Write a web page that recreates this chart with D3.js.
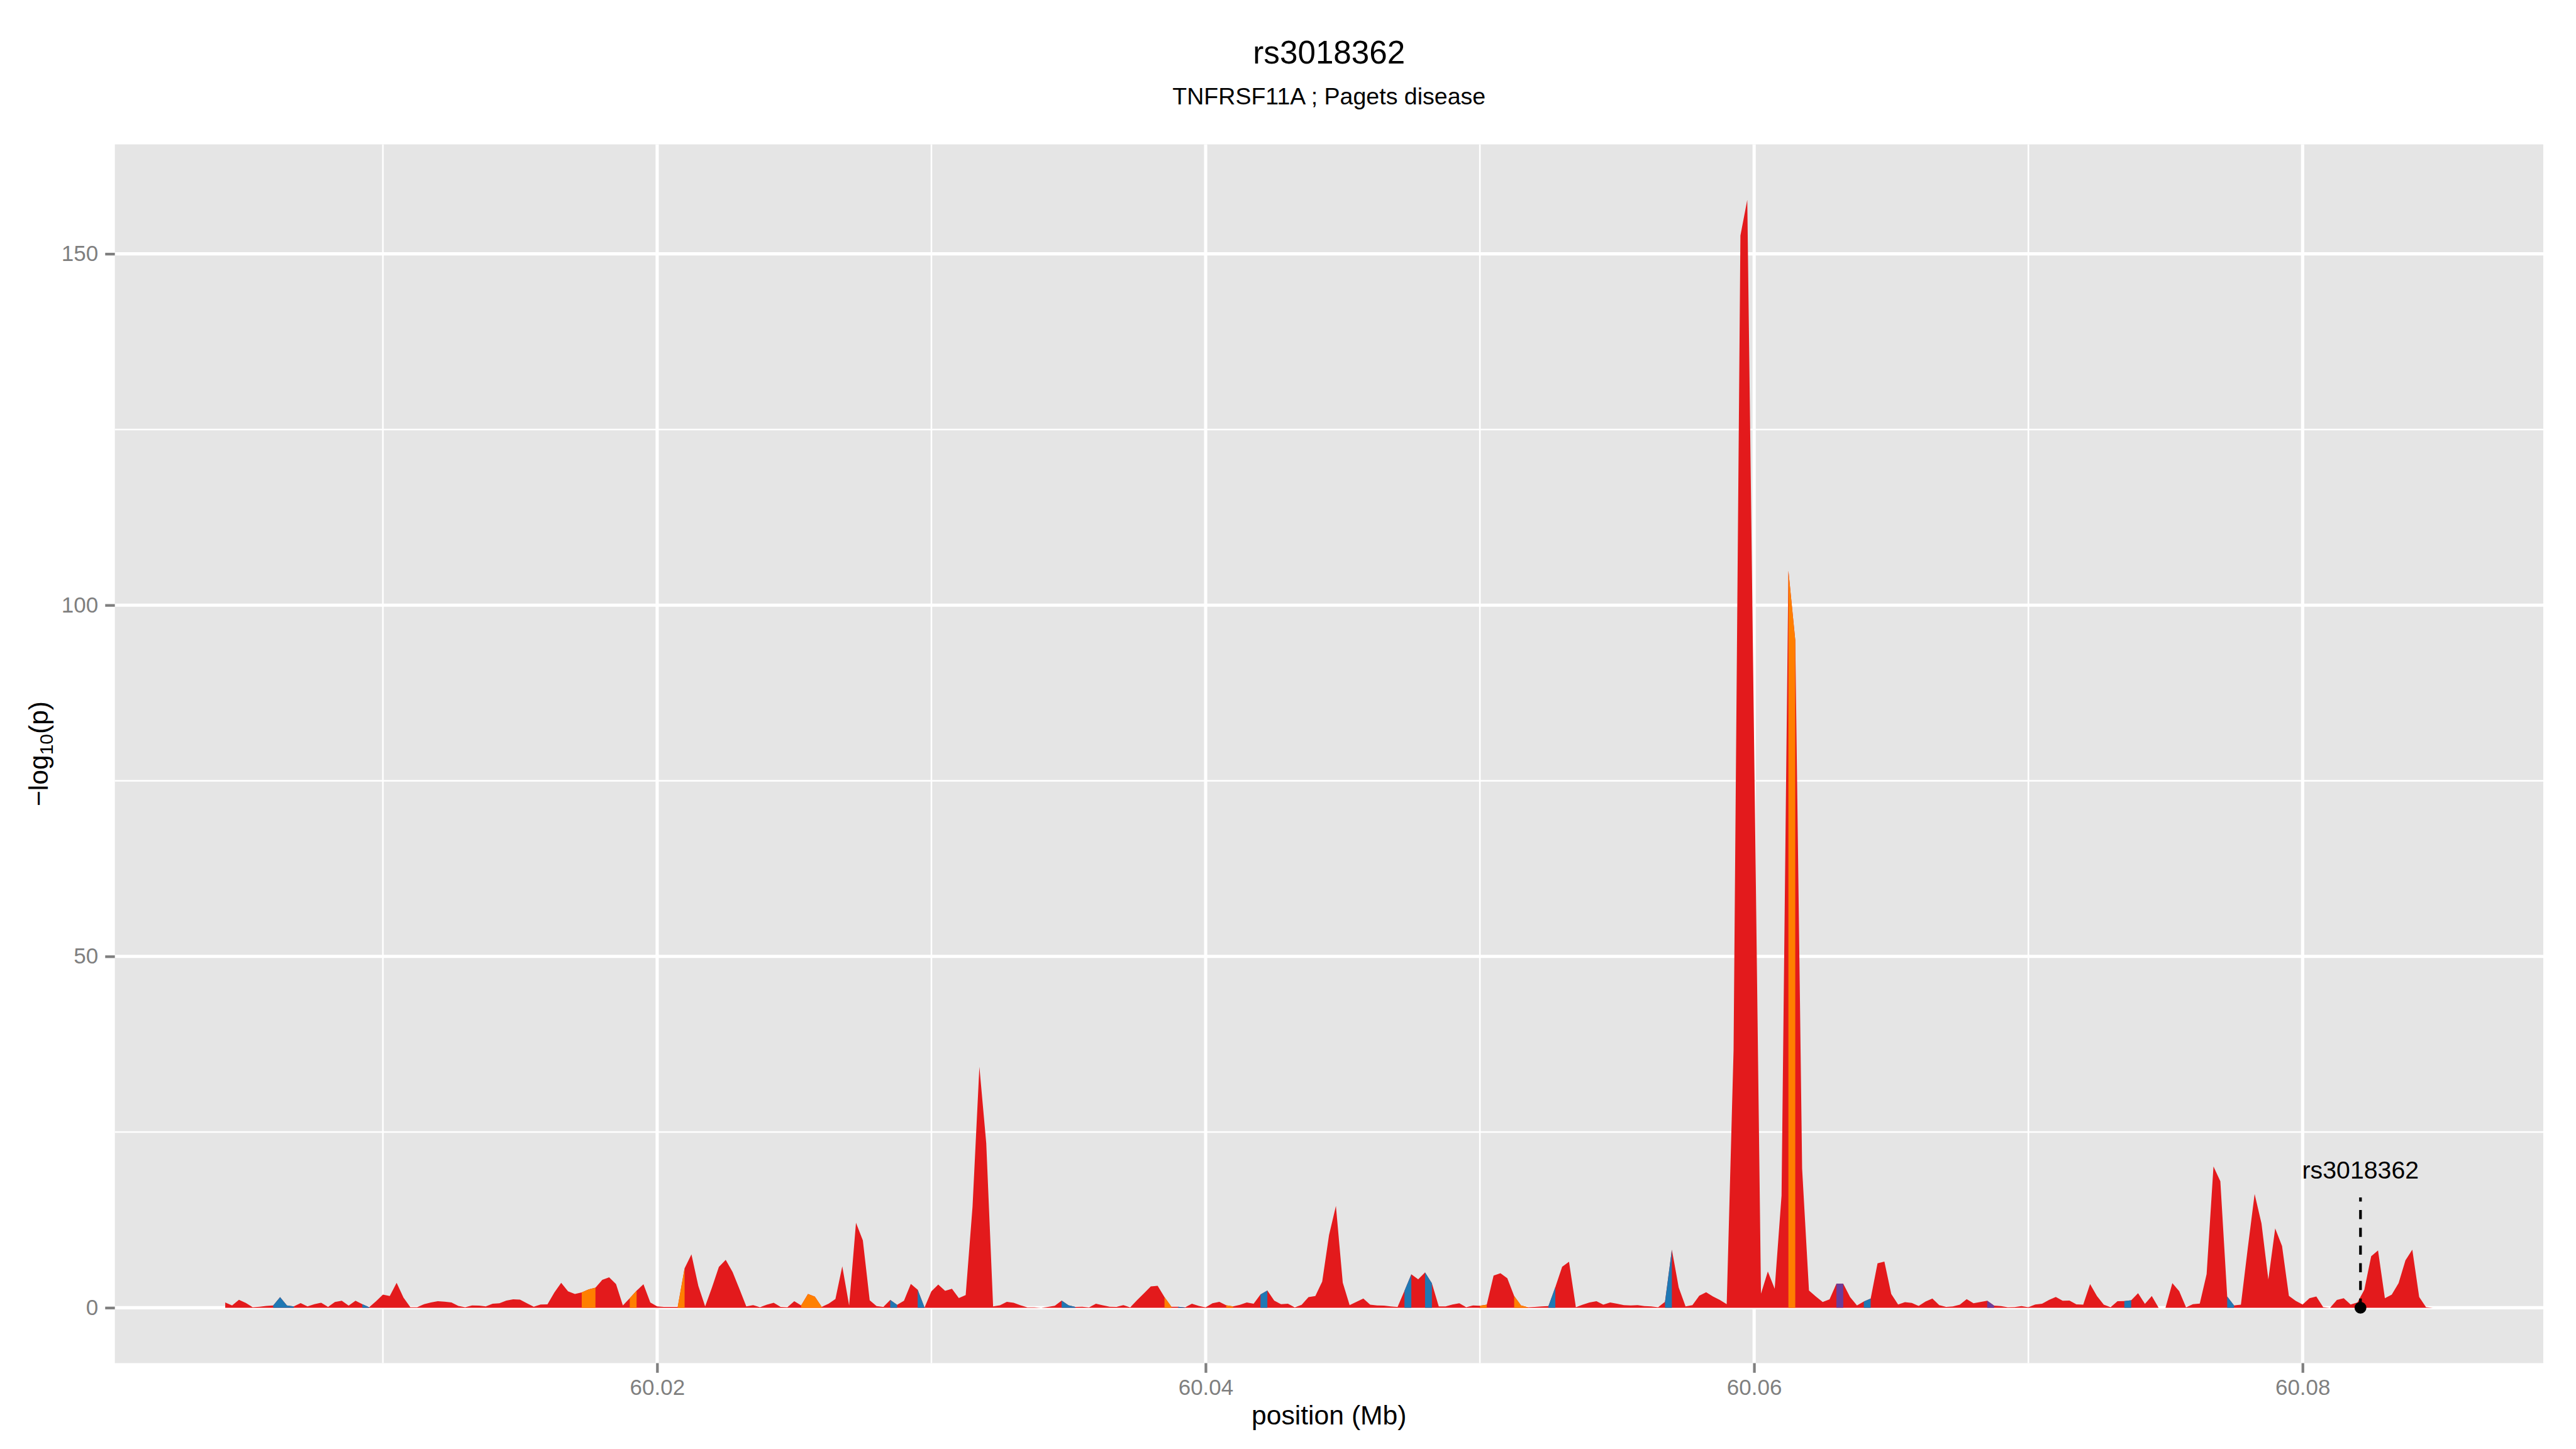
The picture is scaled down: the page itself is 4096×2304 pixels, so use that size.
<!DOCTYPE html>
<html>
<head>
<meta charset="utf-8">
<title>rs3018362</title>
<script src="https://cdn.jsdelivr.net/npm/d3@7"></script>
<style>
    html, body { margin: 0; padding: 0; background: #ffffff; }
    svg { display: block; }
    text { font-family: "Liberation Sans", Arial, Helvetica, sans-serif; }
</style>
</head>
<body>
<div id="locus-plot"></div>
<script>
// SNP positions (bp) along the region
const positionsBp = [
    60004250,60004500,60004750,60005000,60005250,60005500,60005750,60006000,60006250,60006500,
    60006750,60007000,60007250,60007500,60007750,60008000,60008250,60008500,60008750,60009000,
    60009250,60009500,60009750,60010000,60010250,60010500,60010750,60011000,60011250,60011500,
    60011750,60012000,60012250,60012500,60012750,60013000,60013250,60013500,60013750,60014000,
    60014250,60014500,60014750,60015000,60015250,60015500,60015750,60016000,60016250,60016500,
    60016750,60017000,60017250,60017500,60017750,60018000,60018250,60018500,60018750,60019000,
    60019250,60019500,60019750,60020000,60020250,60020500,60020750,60021000,60021250,60021500,
    60021750,60022000,60022250,60022500,60022750,60023000,60023250,60023500,60023750,60024000,
    60024250,60024500,60024750,60025000,60025250,60025500,60025750,60026000,60026250,60026500,
    60026750,60027000,60027250,60027500,60027750,60028000,60028250,60028500,60028750,60029000,
    60029250,60029500,60029750,60030000,60030250,60030500,60030750,60031000,60031250,60031500,
    60031750,60032000,60032250,60032500,60032750,60033000,60033250,60033500,60033750,60034000,
    60034250,60034500,60034750,60035000,60035250,60035500,60035750,60036000,60036250,60036500,
    60036750,60037000,60037250,60037500,60037750,60038000,60038250,60038500,60038750,60039000,
    60039250,60039500,60039750,60040000,60040250,60040500,60040750,60041000,60041250,60041500,
    60041750,60042000,60042250,60042500,60042750,60043000,60043250,60043500,60043750,60044000,
    60044250,60044500,60044750,60045000,60045250,60045500,60045750,60046000,60046250,60046500,
    60046750,60047000,60047250,60047500,60047750,60048000,60048250,60048500,60048750,60049000,
    60049250,60049500,60049750,60050000,60050250,60050500,60050750,60051000,60051250,60051500,
    60051750,60052000,60052250,60052500,60052750,60053000,60053250,60053500,60053750,60054000,
    60054250,60054500,60054750,60055000,60055250,60055500,60055750,60056000,60056250,60056500,
    60056750,60057000,60057250,60057500,60057750,60058000,60058250,60058500,60058750,60059000,
    60059250,60059500,60059750,60060000,60060250,60060500,60060750,60061000,60061250,60061500,
    60061750,60062000,60062250,60062500,60062750,60063000,60063250,60063500,60063750,60064000,
    60064250,60064500,60064750,60065000,60065250,60065500,60065750,60066000,60066250,60066500,
    60066750,60067000,60067250,60067500,60067750,60068000,60068250,60068500,60068750,60069000,
    60069250,60069500,60069750,60070000,60070250,60070500,60070750,60071000,60071250,60071500,
    60071750,60072000,60072250,60072500,60072750,60073000,60073250,60073500,60073750,60074000,
    60074250,60074500,60074750,60075000,60075250,60075500,60075750,60076000,60076250,60076500,
    60076750,60077000,60077250,60077500,60077750,60078000,60078250,60078500,60078750,60079000,
    60079250,60079500,60079750,60080000,60080250,60080500,60080750,60081000,60081250,60081500,
    60081750,60082000,60082250,60082500,60082750,60083000,60083250,60083500,60083750,60084000,
    60084250,60084500,60084750
];

// -log10(p) at each position
const neglog10p = [
    0.76,0.33,1.12,0.69,0.08,0.15,0.25,0.33,1.5,0.33,
    0.2,0.66,0.2,0.5,0.71,0.13,0.81,1.0,0.3,1.0,
    0.5,0.08,0.94,1.86,1.66,3.54,1.45,0.08,0.08,0.5,
    0.76,0.94,0.87,0.74,0.25,0.08,0.33,0.3,0.2,0.56,
    0.64,1.02,1.2,1.15,0.64,0.15,0.46,0.48,2.16,3.54,
    2.34,1.96,2.19,2.6,2.85,3.97,4.33,3.36,0.33,1.35,
    2.42,3.34,0.76,0.2,0.13,0.13,0.13,5.6,7.59,3.13,
    0.18,2.9,5.8,6.82,5.09,2.67,0.2,0.36,0.08,0.43,
    0.71,0.13,0.08,0.92,0.33,1.96,1.58,0.13,0.56,1.25,
    5.9,0.33,12.1,9.6,1.07,0.23,0.13,1.1,0.41,1.0,
    3.4,2.57,0.04,2.34,3.3,2.4,2.69,1.37,1.81,14.4,
    34.3,23.4,0.2,0.35,0.85,0.7,0.35,0.06,0.06,0,
    0.12,0.29,1.02,0.35,0.12,0.15,0.06,0.58,0.35,0.15,
    0.12,0.38,0.06,1.08,2.05,3.04,3.13,1.52,0.15,0.15,
    0.06,0.58,0.26,0.06,0.64,0.85,0.35,0.2,0.41,0.76,
    0.56,1.9,2.46,1.02,0.5,0.56,0.06,0.41,1.52,1.67,
    3.72,10.35,14.5,3.57,0.38,0.84,1.32,0.43,0.33,0.3,
    0.18,0.13,2.4,4.76,4.05,5.02,3.49,0.18,0.18,0.46,
    0.64,0.08,0.33,0.28,0.43,4.58,4.91,4.2,1.66,0.33,
    0.08,0.13,0.18,0.23,2.93,5.83,6.54,0.08,0.43,0.76,
    0.94,0.43,0.76,0.56,0.36,0.33,0.38,0.23,0.18,0.08,
    0.84,8.28,2.88,0.2,0.38,1.71,2.2,1.6,1.1,0.5,
    36.6,152.6,157.7,80,2.0,5.16,2.7,16.0,104.9,95.0,
    19.8,2.45,1.6,0.82,1.2,3.42,3.42,1.52,0.33,0.89,
    1.32,6.32,6.57,1.96,0.46,0.79,0.69,0.25,0.89,1.32,
    0.38,0.13,0.18,0.43,1.22,0.64,0.81,0.99,0.31,0.23,
    0.08,0.1,0.23,0.08,0.46,0.56,1.1,1.53,0.99,1.02,
    0.48,0.43,3.36,1.66,0.43,0.08,0.94,0.95,1.07,2.07,
    0.55,1.66,0,0,3.51,2.37,0.05,0.51,0.59,4.79,
    20.1,18.0,1.6,0.33,0.43,8.48,16.2,12.0,4.02,11.3,
    8.78,1.68,0.97,0.46,1.35,1.6,0.08,0,1.1,1.35,
    0.46,0.76,2.57,7.33,8.15,1.35,1.86,3.51,6.75,8.28,
    1.53,0.08,0
];

// LD groups; everything not listed below belongs to the first group
const ldGroups = ["ld1", "ld2", "ld3", "ld4"];

// stretches of the curve filled with another LD group: [from bp, to bp, group]
const ldSegments = [
    [60006000, 60006750, "ld2"], [60009250, 60009500, "ld2"],
    [60017250, 60017750, "ld3"], [60019000, 60019250, "ld3"],
    [60020750, 60021000, "ld3"], [60025250, 60026000, "ld3"],
    [60028500, 60028750, "ld2"], [60029500, 60029750, "ld2"],
    [60034750, 60035250, "ld2"], [60038500, 60038750, "ld3"],
    [60039000, 60039250, "ld2"], [60040750, 60041000, "ld3"],
    [60042000, 60042250, "ld2"], [60047250, 60047500, "ld2"],
    [60048000, 60048250, "ld2"], [60050000, 60050250, "ld3"],
    [60051250, 60051750, "ld3"], [60052500, 60052750, "ld2"],
    [60056750, 60057000, "ld2"], [60061250, 60061500, "ld3"],
    [60063000, 60063250, "ld4"], [60064000, 60064250, "ld2"],
    [60068500, 60068750, "ld4"], [60073500, 60073750, "ld2"],
    [60077250, 60077500, "ld2"]
];

const xTicks = [60.02, 60.04, 60.06, 60.08];
const xMinorTicks = [60.01, 60.03, 60.05, 60.07];
const yTicks = [0, 50, 100, 150];
const yMinorTicks = [25, 75, 125];

const leadSnp = { id: "rs3018362", posBp: 60082110, lineTop: 15.7, labelAt: 19.6 };
const plotTitle = "rs3018362";
const plotSubtitle = "TNFRSF11A ; Pagets disease";

document.addEventListener("DOMContentLoaded", () => {
    const width = 4800;
    const height = 2700;
    const panel = { left: 214, right: 4739, top: 269, bottom: 2540 };

    const svg = d3.select("#locus-plot")
        .append("svg")
        .attr("width", 4096)
        .attr("height", 2304)
        .attr("viewBox", [0, 0, width, height]);

    const points = positionsBp.map((p, i) => ({ bp: p, mb: p / 1e6, v: neglog10p[i] }));

    // ggplot-like 5% expansion on both axes
    const xExt = d3.extent(points, d => d.mb);
    const xPad = (xExt[1] - xExt[0]) * 0.05;
    const x = d3.scaleLinear()
        .domain([xExt[0] - xPad, xExt[1] + xPad])
        .range([panel.left, panel.right]);

    const yExt = d3.extent(points, d => d.v);
    const yPad = (yExt[1] - yExt[0]) * 0.05;
    const y = d3.scaleLinear()
        .domain([yExt[0] - yPad, yExt[1] + yPad])
        .range([panel.bottom, panel.top]);

    const color = d3.scaleOrdinal()
        .domain(ldGroups)
        .range(["#E31A1C", "#1F78B4", "#FF7F00", "#6A3D9A"]);

    // panel
    svg.append("rect")
        .attr("x", panel.left)
        .attr("y", panel.top)
        .attr("width", panel.right - panel.left)
        .attr("height", panel.bottom - panel.top)
        .attr("fill", "#E5E5E5");

    const grid = svg.append("g").attr("stroke", "#ffffff");

    grid.selectAll(".xminor")
        .data(xMinorTicks)
        .join("line")
        .attr("class", "xminor")
        .attr("x1", d => x(d)).attr("x2", d => x(d))
        .attr("y1", panel.top).attr("y2", panel.bottom)
        .attr("stroke-width", 3);

    grid.selectAll(".yminor")
        .data(yMinorTicks)
        .join("line")
        .attr("class", "yminor")
        .attr("x1", panel.left).attr("x2", panel.right)
        .attr("y1", d => y(d)).attr("y2", d => y(d))
        .attr("stroke-width", 3);

    grid.selectAll(".xmajor")
        .data(xTicks)
        .join("line")
        .attr("class", "xmajor")
        .attr("x1", d => x(d)).attr("x2", d => x(d))
        .attr("y1", panel.top).attr("y2", panel.bottom)
        .attr("stroke-width", 6);

    grid.selectAll(".ymajor")
        .data(yTicks)
        .join("line")
        .attr("class", "ymajor")
        .attr("x1", panel.left).attr("x2", panel.right)
        .attr("y1", d => y(d)).attr("y2", d => y(d))
        .attr("stroke-width", 6);

    const area = d3.area()
        .x(d => x(d.mb))
        .y0(y(0))
        .y1(d => y(d.v));

    // whole curve in the base group, then the other groups on top
    svg.append("path")
        .datum(points)
        .attr("d", area)
        .attr("fill", color(ldGroups[0]));

    svg.selectAll(".ld-seg")
        .data(ldSegments)
        .join("path")
        .attr("class", "ld-seg")
        .attr("d", s => area(points.filter(p => p.bp >= s[0] && p.bp <= s[1])))
        .attr("fill", s => color(s[2]));

    // lead SNP marker
    const snpX = x(leadSnp.posBp / 1e6);
    svg.append("line")
        .attr("x1", snpX).attr("x2", snpX)
        .attr("y1", y(0)).attr("y2", y(leadSnp.lineTop))
        .attr("stroke", "#000")
        .attr("stroke-width", 5)
        .attr("stroke-dasharray", "17,16");

    svg.append("circle")
        .attr("cx", snpX)
        .attr("cy", y(0))
        .attr("r", 11)
        .attr("fill", "#000");

    svg.append("text")
        .attr("x", snpX)
        .attr("y", y(leadSnp.labelAt))
        .attr("dy", "0.35em")
        .attr("text-anchor", "middle")
        .attr("font-size", 46)
        .attr("fill", "#000")
        .text(leadSnp.id);

    // axes
    const xAxis = svg.append("g")
        .attr("transform", `translate(0,${panel.bottom})`)
        .call(d3.axisBottom(x).tickValues(xTicks).tickFormat(d3.format(".2f")).tickSize(18).tickPadding(12));

    const yAxis = svg.append("g")
        .attr("transform", `translate(${panel.left},0)`)
        .call(d3.axisLeft(y).tickValues(yTicks).tickSize(18).tickPadding(13));

    [xAxis, yAxis].forEach(g => {
        g.select(".domain").remove();
        g.selectAll(".tick line").attr("stroke", "#7F7F7F").attr("stroke-width", 5);
        g.selectAll(".tick text")
            .attr("fill", "#7F7F7F")
            .attr("font-size", 41)
            .attr("font-family", "Liberation Sans, Arial, sans-serif");
    });

    const midX = (panel.left + panel.right) / 2;

    svg.append("text")
        .attr("x", midX)
        .attr("y", 2654)
        .attr("text-anchor", "middle")
        .attr("font-size", 50)
        .text("position (Mb)");

    const yTitle = svg.append("text")
        .attr("transform", `translate(89,${(panel.top + panel.bottom) / 2}) rotate(-90)`)
        .attr("text-anchor", "middle")
        .attr("font-size", 50);
    yTitle.append("tspan").text("\u2212log");
    yTitle.append("tspan").attr("font-size", 35).attr("dy", 9).text("10");
    yTitle.append("tspan").attr("dy", -9).text("(p)");

    svg.append("text")
        .attr("x", midX)
        .attr("y", 118)
        .attr("text-anchor", "middle")
        .attr("font-size", 60)
        .text(plotTitle);

    svg.append("text")
        .attr("x", midX)
        .attr("y", 195)
        .attr("text-anchor", "middle")
        .attr("font-size", 44)
        .text(plotSubtitle);
});
</script>
</body>
</html>
